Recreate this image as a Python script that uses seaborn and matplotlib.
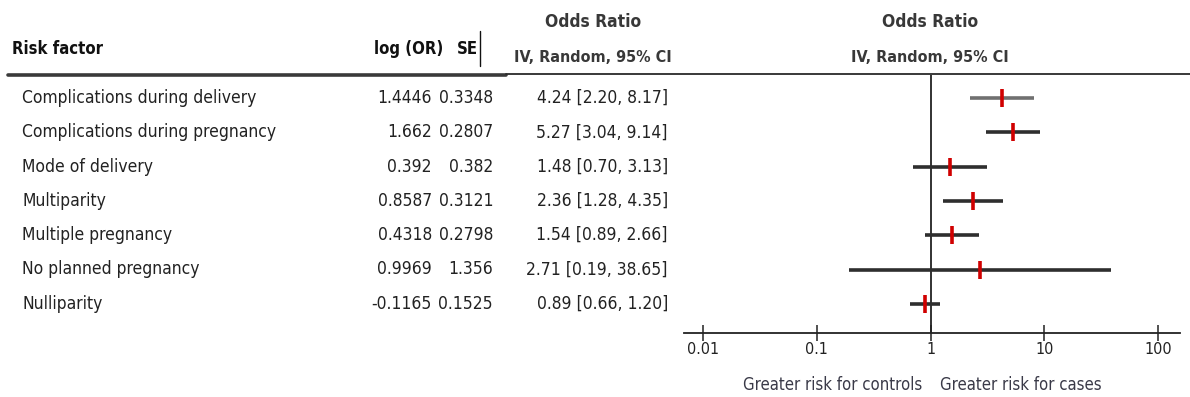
import matplotlib
matplotlib.use("Agg")
import matplotlib.pyplot as plt
import matplotlib.transforms as mtransforms
from matplotlib.lines import Line2D
import numpy as np
import pandas as pd
import seaborn as sns

# Study-level estimates
factors = [
    "Complications during delivery",
    "Complications during pregnancy",
    "Mode of delivery",
    "Multiparity",
    "Multiple pregnancy",
    "No planned pregnancy",
    "Nulliparity",
]
log_or_text = ["1.4446", "1.662", "0.392", "0.8587", "0.4318", "0.9969", "-0.1165"]
se_text = ["0.3348", "0.2807", "0.382", "0.3121", "0.2798", "1.356", "0.1525"]
odds_ratio = [4.24, 5.27, 1.48, 2.36, 1.54, 2.71, 0.89]
ci_low = [2.20, 3.04, 0.70, 1.28, 0.89, 0.19, 0.66]
ci_high = [8.17, 9.14, 3.13, 4.35, 2.66, 38.65, 1.20]
tick_values = [0.01, 0.1, 1, 10, 100]
tick_labels = ["0.01", "0.1", "1", "10", "100"]

df = pd.DataFrame({
    "factor": factors,
    "row": np.arange(len(factors)),
    "or": odds_ratio,
    "lo": ci_low,
    "hi": ci_high,
})

sns.set_theme(style="white")
plt.rcParams["font.family"] = ["DejaVu Sans"]
plt.rcParams["font.stretch"] = "condensed"

W, H = 1190, 397
fig = plt.figure(figsize=(W / 100, H / 100), dpi=100)

# forest panel placed in pixel terms
x0, x1 = 684, 1180
y_top, y_bot = 75, 333
ax = fig.add_axes([x0 / W, 1 - y_bot / H, (x1 - x0) / W, (y_bot - y_top) / H])

# row centres: first at 98 px, step 34.3 px
row0, step = 98.0, 34.3
ax.set_ylim((y_bot - row0) / step, (y_top - row0) / step)
ax.set_xscale("log")
dec = 113.8
ax.set_xlim(10 ** (-2 - (703 - x0) / dec), 10 ** (-2 + (x1 - 703) / dec))

# confidence intervals
line_colors = ["#707070"] + ["#2e2e2e"] * (len(df) - 1)
for r, lo, hi, c in zip(df["row"], df["lo"], df["hi"], line_colors):
    ax.plot([lo, hi], [r, r], color=c, lw=2.6, solid_capstyle="butt", zorder=2)

# point estimates
sns.scatterplot(data=df, x="or", y="row", marker="|", s=150, color="#d00000",
                linewidth=2.6, ax=ax, zorder=3, legend=False)

ax.axvline(1, color="#222222", lw=1.3, zorder=1)

for side in ["top", "right", "left"]:
    ax.spines[side].set_visible(False)
ax.spines["bottom"].set_color("#222222")
ax.spines["bottom"].set_linewidth(1.3)
ax.set_xticks(tick_values)
ax.set_xticklabels(tick_labels)
ax.xaxis.set_minor_locator(matplotlib.ticker.NullLocator())
ax.tick_params(axis="x", direction="inout", length=11, width=1.1, color="#222222",
               labelsize=11.5, labelcolor="#222222", pad=1, bottom=True)
ax.set_yticks([])
ax.set_xlabel("")
ax.set_ylabel("")

# table text sharing the row positions of the forest panel
trans = mtransforms.blended_transform_factory(fig.transFigure, ax.transData)
txt_kw = dict(fontsize=12.5, color="#222222", va="center", transform=trans)
for r, name, lg, se, o, lo, hi in zip(df["row"], factors, log_or_text, se_text,
                                       odds_ratio, ci_low, ci_high):
    fig.text(22 / W, r, name, ha="left", **txt_kw)
    fig.text(432 / W, r, lg, ha="right", **txt_kw)
    fig.text(493 / W, r, se, ha="right", **txt_kw)
    fig.text(668 / W, r, f"{o:.2f} [{lo:.2f}, {hi:.2f}]", ha="right", **txt_kw)

def fy(py):
    return 1 - py / H

# column headers
hdr = dict(fontsize=12, fontweight="bold", color="#111111", va="center")
fig.text(12 / W, fy(49), "Risk factor", ha="left", **hdr)
fig.text(443 / W, fy(49), "log (OR)", ha="right", **hdr)
fig.text(478 / W, fy(49), "SE", ha="right", **hdr)
fig.add_artist(Line2D([479.5 / W, 479.5 / W], [fy(31), fy(66)], color="#111111", lw=1.0))

sub = dict(fontweight="bold", color="#383838", va="center", ha="center")
for cx in (593, 930):
    fig.text(cx / W, fy(22), "Odds Ratio", fontsize=12.5, **sub)
    fig.text(cx / W, fy(57), "IV, Random, 95% CI", fontsize=11.5, **sub)

# header rules
fig.add_artist(Line2D([8 / W, 506 / W], [fy(75), fy(75)], color="#3a3a3a", lw=2.6))
fig.add_artist(Line2D([506 / W, 1.0], [fy(74), fy(74)], color="#2a2a2a", lw=1.3))

# direction labels under the axis
dl = dict(fontsize=12, color="#3a3a48", va="center")
fig.text(922 / W, fy(385), "Greater risk for controls", ha="right", **dl)
fig.text(940 / W, fy(385), "Greater risk for cases", ha="left", **dl)

fig.savefig("out.png", dpi=100, facecolor="white")
